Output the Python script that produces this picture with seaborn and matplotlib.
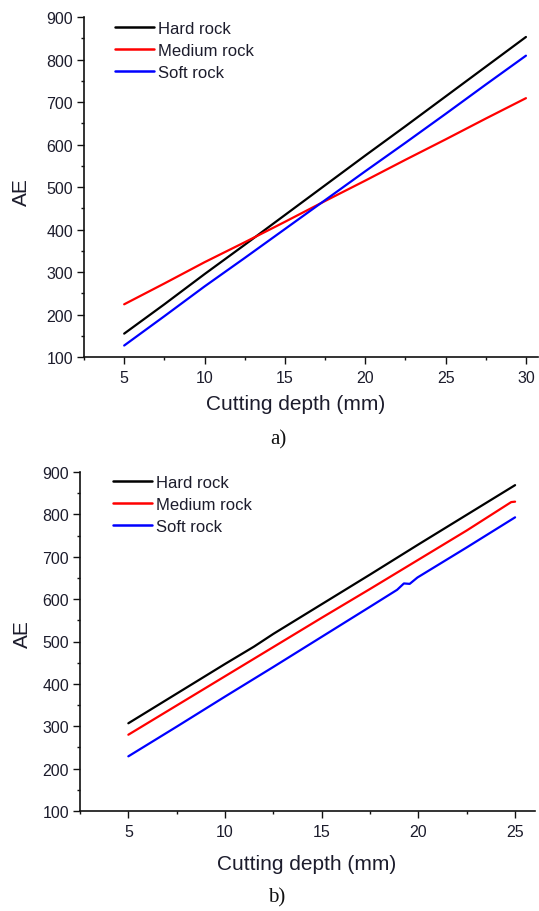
import matplotlib
matplotlib.use("Agg")
import matplotlib.pyplot as plt
from matplotlib.ticker import MultipleLocator
import numpy as np
import pandas as pd
import seaborn as sns

# ---- Panel a) AE versus cutting depth ----
depth_a = [5, 7.5, 10, 12.5, 15, 17.5, 20, 22.5, 25, 27.5, 30]
hard_a = [155, 224, 295, 364, 434, 504, 574, 643, 713, 783, 853]
medium_a = [224, 273, 323, 370, 418, 467, 515, 564, 612, 661, 709]
soft_a = [127, 196, 266, 333, 401, 469, 537, 604, 672, 741, 809]

# ---- Panel b) AE versus cutting depth ----
depth_b_hard = [5, 7.5, 10, 11.5, 12.5, 15, 17.5, 20, 22.5, 25]
hard_b = [307, 377, 447, 488, 518, 588, 658, 729, 799, 869]
depth_b_medium = [5, 7.5, 10, 12.5, 15, 17.5, 20, 22.5, 24.8, 25]
medium_b = [280, 349, 418, 487, 556, 624, 693, 762, 829, 830]
depth_b_soft = [5, 7.5, 10, 12.5, 15, 17.5, 18.9, 19.25, 19.55, 19.95, 22.5, 25]
soft_b = [229, 299, 370, 440, 511, 582, 622, 637, 636, 651, 722, 793]

rock_names = ["Hard rock", "Medium rock", "Soft rock"]
rock_colors = ["#000000", "#ff0000", "#0000ff"]


def long_frame(series):
    parts = []
    for name, (xs, ys) in zip(rock_names, series):
        parts.append(pd.DataFrame({"depth": xs, "AE": ys, "rock": name}))
    return pd.concat(parts, ignore_index=True)


df_a = long_frame([(depth_a, hard_a), (depth_a, medium_a), (depth_a, soft_a)])
df_b = long_frame([(depth_b_hard, hard_b), (depth_b_medium, medium_b),
                   (depth_b_soft, soft_b)])

sns.set_style("ticks")
plt.rcParams["font.family"] = ["Liberation Sans", "DejaVu Sans"]
text_color = "#1c1c2c"

W, H = 539, 912
fig = plt.figure(figsize=(W / 100, H / 100), dpi=100)


def px_axes(left, right, top, bottom):
    return fig.add_axes([left / W, 1 - bottom / H, (right - left) / W,
                         (bottom - top) / H])


def style_panel(ax, df, xlim, leg_anchor, xlab_pos, ylab_x, ylab_y):
    sns.lineplot(data=df, x="depth", y="AE", hue="rock", hue_order=rock_names,
                 palette=rock_colors, linewidth=1.6, sort=False, ax=ax,
                 estimator=None)
    ax.set_xlim(*xlim)
    ax.set_ylim(100, 900)
    ax.xaxis.set_major_locator(MultipleLocator(5))
    ax.xaxis.set_minor_locator(MultipleLocator(2.5))
    ax.yaxis.set_major_locator(MultipleLocator(100))
    ax.yaxis.set_minor_locator(MultipleLocator(50))
    for s in ("top", "right"):
        ax.spines[s].set_visible(False)
    for s in ("left", "bottom"):
        ax.spines[s].set_linewidth(1.2)
        ax.spines[s].set_color("#111111")
    ax.tick_params(which="major", length=5, width=1.0, color="#111111",
                   labelsize=11.5, labelcolor=text_color)
    ax.tick_params(which="minor", length=2.5, width=1.0, color="#111111")
    ax.tick_params(axis="x", which="major", pad=4.5)
    ax.tick_params(axis="y", which="major", pad=3)
    ax.set_xlabel("Cutting depth (mm)", fontsize=15, color=text_color)
    ax.set_ylabel("AE", fontsize=15, color=text_color)
    ax.xaxis.set_label_coords(*xlab_pos)
    ax.yaxis.set_label_coords(ylab_x, ylab_y)
    sns.move_legend(ax, "upper left", bbox_to_anchor=leg_anchor,
                    borderaxespad=0, borderpad=0, frameon=False, title=None,
                    fontsize=12, handlelength=2.35, handletextpad=0.25,
                    labelspacing=0.41)
    leg = ax.get_legend()
    for line in leg.get_lines():
        line.set_linewidth(1.8)
    for t in leg.get_texts():
        t.set_color(text_color)


ax_a = px_axes(84, 538, 18, 358)
style_panel(ax_a, df_a, (2.5, 30.75), (0.068, 0.988), (0.467, -0.109),
            -0.117, 0.488)

ax_b = px_axes(80, 535, 473, 812)
style_panel(ax_b, df_b, (2.5, 26.03), (0.0725, 0.991), (0.498, -0.127),
            -0.105, 0.525)

fig.text(278 / W, 1 - 440 / H, "a)", ha="center", va="center", fontsize=15,
         family=["Liberation Serif", "DejaVu Serif"], color="#111111")
fig.text(277 / W, 1 - 898 / H, "b)", ha="center", va="center", fontsize=15,
         family=["Liberation Serif", "DejaVu Serif"], color="#111111")

fig.savefig("out.png", dpi=100, facecolor="white")
